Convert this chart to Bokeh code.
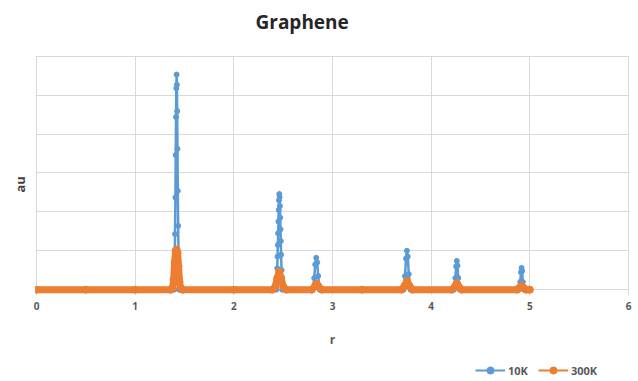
from bokeh.plotting import figure
from bokeh.layouts import column
from bokeh.models import Legend, LegendItem, FixedTicker, Range1d, Title, Label
from bokeh.embed import file_html
from bokeh.resources import INLINE

# ---- data (y in gridline units) ----
x_ticks = [0, 1, 2, 3, 4, 5, 6]
y_grid = [0, 1, 2, 3, 4, 5, 6]

r_10k = [0.0, 0.5, 1.0,
         1.395, 1.400, 1.404, 1.408, 1.411, 1.414, 1.417, 1.420, 1.423, 1.426, 1.429, 1.432, 1.436, 1.441, 1.446,
         2.0,
         2.430, 2.435, 2.440, 2.443, 2.446, 2.449, 2.452, 2.455, 2.458, 2.461, 2.464, 2.467, 2.470, 2.473, 2.476, 2.479, 2.484, 2.490,
         2.800, 2.815, 2.825, 2.835, 2.845, 2.855, 2.870,
         3.3,
         3.720, 3.735, 3.745, 3.754, 3.763, 3.773, 3.790,
         4.230, 4.245, 4.253, 4.260, 4.267, 4.275, 4.290,
         4.890, 4.903, 4.910, 4.916, 4.922, 4.929, 4.940,
         5.0]
au_10k = [0.0, 0.0, 0.0,
          0.0, 0.3, 1.43, 2.37, 3.46, 4.44, 5.18, 5.53, 5.27, 4.59, 3.62, 2.54, 1.64, 0.5, 0.0,
          0.0,
          0.0, 0.2, 0.55, 0.85, 1.15, 1.45, 1.75, 2.05, 2.3, 2.46, 2.38, 2.15, 1.85, 1.55, 1.25, 0.9, 0.5, 0.0,
          0.0, 0.3, 0.65, 0.82, 0.7, 0.35, 0.0,
          0.0,
          0.0, 0.35, 0.8, 1.0, 0.85, 0.4, 0.0,
          0.0, 0.3, 0.6, 0.74, 0.62, 0.3, 0.0,
          0.0, 0.2, 0.45, 0.56, 0.48, 0.2, 0.0,
          0.0]

r_300k = [0.0, 0.5, 1.0,
          1.36, 1.38, 1.39, 1.40, 1.41, 1.42, 1.43, 1.44, 1.45, 1.46, 1.48,
          2.0,
          2.39, 2.42, 2.44, 2.46, 2.48, 2.50, 2.53,
          2.79, 2.82, 2.84, 2.86, 2.89,
          3.3,
          3.70, 3.73, 3.755, 3.78, 3.81,
          4.21, 4.24, 4.26, 4.28, 4.31,
          4.87, 4.895, 4.915, 4.935, 4.96,
          5.0]
au_300k = [0.0, 0.0, 0.0,
           0.0, 0.05, 0.25, 0.7, 1.0, 1.03, 0.95, 0.6, 0.2, 0.05, 0.0,
           0.0,
           0.0, 0.08, 0.3, 0.46, 0.3, 0.08, 0.0,
           0.0, 0.08, 0.15, 0.08, 0.0,
           0.0,
           0.0, 0.1, 0.22, 0.1, 0.0,
           0.0, 0.08, 0.17, 0.08, 0.0,
           0.0, 0.05, 0.1, 0.05, 0.0,
           0.0]

series_names = ["10K", "300K"]
chart_title = "Graphene"
BLUE = "#5B9BD5"
ORANGE = "#ED7D31"
FONT = "Open Sans"
GREY = "#595959"

# title strip
pt = figure(width=638, height=35, output_backend="svg", toolbar_location=None,
            x_range=Range1d(0, 1), y_range=Range1d(0, 1), min_border=0)
pt.axis.visible = False
pt.grid.visible = False
pt.outline_line_color = None
pt.add_layout(Label(x=220, y=14, x_units="screen", y_units="screen", text=chart_title,
                    text_font=FONT, text_font_size="19px", text_font_style="bold",
                    text_color="#262626", text_align="left", text_baseline="middle"))

p = figure(width=638, height=318, output_backend="svg", toolbar_location=None,
           x_range=Range1d(-0.01, 6.01), y_range=Range1d(-0.15, 6.02),
           min_border_left=35, min_border_right=9, min_border_top=20, min_border_bottom=58)
p.outline_line_color = None
p.title.visible = False

p.xaxis.ticker = FixedTicker(ticks=x_ticks)
p.xgrid.ticker = FixedTicker(ticks=x_ticks)
p.ygrid.ticker = FixedTicker(ticks=y_grid)
p.xgrid.grid_line_color = "#d9d9d9"
p.ygrid.grid_line_color = "#d9d9d9"

p.xaxis.axis_line_color = None
p.xaxis.major_tick_line_color = None
p.xaxis.minor_tick_line_color = None
p.xaxis.major_label_text_font = FONT
p.xaxis.major_label_text_font_size = "10px"
p.xaxis.major_label_text_font_style = "bold"
p.xaxis.major_label_text_color = GREY
p.xaxis.major_label_standoff = 0
p.xaxis.axis_label = "r"
p.xaxis.axis_label_text_font = FONT
p.xaxis.axis_label_text_font_size = "12px"
p.xaxis.axis_label_text_font_style = "bold"
p.xaxis.axis_label_text_color = GREY
p.xaxis.axis_label_standoff = 18

p.yaxis.visible = False
p.add_layout(Title(text="au", align="left", offset=103, text_font=FONT, text_font_size="13px",
                   text_font_style="bold", text_color="#404040", standoff=14), "left")

p.line(r_10k, au_10k, line_color=BLUE, line_width=2.5)
p.scatter(r_10k, au_10k, marker="circle", size=5, fill_color=BLUE, line_color=BLUE)
p.line(r_300k, au_300k, line_color=ORANGE, line_width=7, line_cap="round", line_join="round")
p.scatter(r_300k, au_300k, marker="circle", size=7, fill_color=ORANGE, line_color=ORANGE)

# legend strip below the chart (series drawn out of view; only the legend shows)
pl = figure(width=638, height=28, output_backend="svg", toolbar_location=None,
            x_range=Range1d(10, 11), y_range=Range1d(10, 11), min_border=0)
pl.axis.visible = False
pl.grid.visible = False
pl.outline_line_color = None
k1 = pl.line(r_10k, au_10k, line_color=BLUE, line_width=2)
m1 = pl.scatter(r_10k, au_10k, marker="circle", size=5, fill_color=BLUE, line_color=BLUE)
k2 = pl.line(r_300k, au_300k, line_color=ORANGE, line_width=2)
m2 = pl.scatter(r_300k, au_300k, marker="circle", size=5, fill_color=ORANGE, line_color=ORANGE)

legend = Legend(items=[LegendItem(label=series_names[0], renderers=[k1, m1]),
                       LegendItem(label=series_names[1], renderers=[k2, m2])],
                orientation="horizontal", location=(440, 2),
                padding=0, margin=0, spacing=10, glyph_width=30, glyph_height=18,
                label_text_font=FONT, label_text_font_size="11px", label_text_color=GREY,
                label_text_font_style="bold",
                label_standoff=3, border_line_color=None, background_fill_alpha=0)
pl.add_layout(legend, "center")

layout = column(pt, p, pl, spacing=0)
open("out.html", "w").write(file_html(layout, INLINE))
